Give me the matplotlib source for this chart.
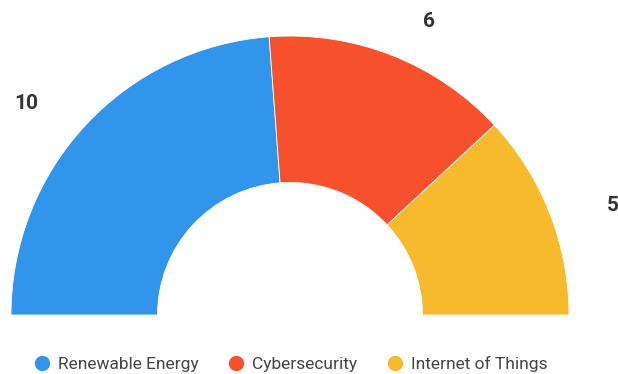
import matplotlib.pyplot as plt
from matplotlib.lines import Line2D
from matplotlib.transforms import offset_copy

plt.rcParams['font.family'] = ['Roboto', 'DejaVu Sans']

topics = ["Renewable Energy", "Cybersecurity", "Internet of Things"]
counts = [10, 6, 5]
colors = ["#3196EB", "#F7502D", "#F6BA2C"]

fig = plt.figure(figsize=(6.18, 3.74), dpi=100)
ax = fig.add_axes([0, 0, 1, 1])

# half donut: a transparent filler slice takes the lower half
cx, cy = 290, 59
outer, inner = 279, 132.5
wedges, texts = ax.pie(
    counts + [sum(counts)],
    colors=colors + ["none"],
    labels=[str(c) for c in counts] + [""],
    startangle=180,
    counterclock=False,
    radius=outer,
    center=(cx, cy),
    labeldistance=1.165,
    wedgeprops=dict(width=outer - inner, edgecolor="white", linewidth=0.6),
    textprops=dict(fontsize=15, fontweight="bold", color="#333333"),
)
wedges[-1].set_visible(False)

# push value labels sideways away from the centre
for t in texts:
    x, _ = t.get_position()
    side = 1 if x >= cx else -1
    t.set_ha("left" if side > 0 else "right")
    t.set_va("top")
    t.set_transform(offset_copy(ax.transData, fig, x=10 * side, y=0, units="points"))

ax.set_xlim(0, 618)
ax.set_ylim(0, 374)
ax.set_aspect("equal")
ax.axis("off")

handles = [Line2D([], [], marker="o", linestyle="none", markersize=10,
                  markerfacecolor=c, markeredgecolor=c) for c in colors]
fig.legend(handles, topics, loc="lower center", bbox_to_anchor=(0.47, -0.037),
           ncol=3, frameon=False, fontsize=12.5, handlelength=1.0,
           handletextpad=0.4, columnspacing=1.7, labelcolor="#444444")

fig.savefig("out.png", dpi=100)
